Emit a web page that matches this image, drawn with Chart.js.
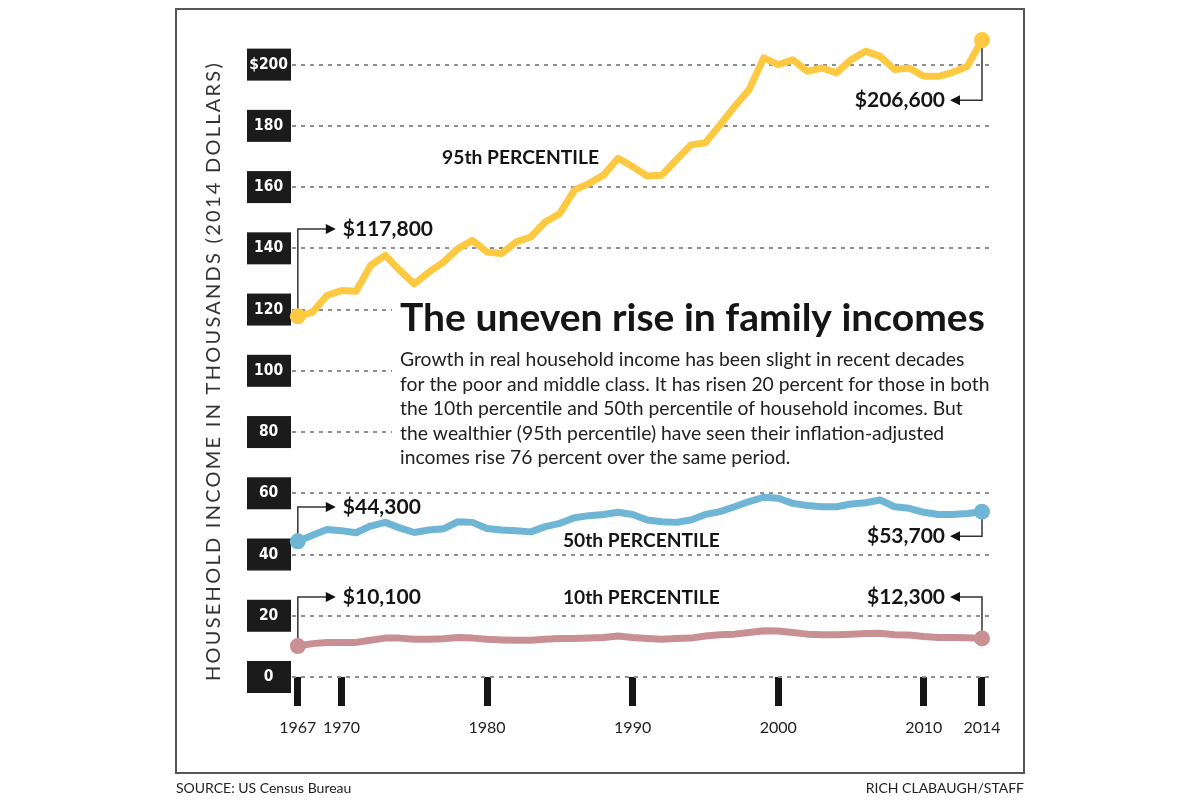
<!DOCTYPE html>
<html>
<head>
<meta charset="utf-8">
<script src="https://cdn.jsdelivr.net/npm/chart.js@4.4.0/dist/chart.umd.min.js"></script>
<style>html,body{margin:0;background:#fff}</style>
</head>
<body>
<canvas id="c" width="1200" height="800"></canvas>
<script>
const years=[1967,1968,1969,1970,1971,1972,1973,1974,1975,1976,1977,1978,1979,1980,1981,1982,
  1983,1984,1985,1986,1987,1988,1989,1990,1991,1992,1993,1994,1995,1996,1997,1998,1999,2000,
  2001,2002,2003,2004,2005,2006,2007,2008,2009,2010,2011,2012,2013,2014];
const p95=[117.8,119.1,124.6,126.2,126.0,134.4,137.7,132.8,128.4,132.2,135.5,139.9,142.6,138.8,138.3,142.1,
  143.7,148.6,151.4,159.0,161.2,163.9,169.4,166.7,163.6,163.9,168.9,173.8,174.5,180.3,186.3,191.8,202.2,200.0,
  201.6,197.8,198.9,197.3,201.6,204.4,202.7,198.4,198.9,196.2,196.2,197.5,199.5,208.0];
const p50=[44.3,46.3,48.2,47.8,47.1,49.3,50.5,48.7,47.2,48.0,48.4,50.7,50.5,48.5,48.0,47.8,
  47.4,49.1,50.2,52.0,52.7,53.1,53.8,53.1,51.3,50.7,50.5,51.3,53.1,54.0,55.6,57.3,58.7,58.4,
  56.7,56.0,55.6,55.6,56.5,56.9,57.8,55.6,55.1,53.8,53.1,53.1,53.4,54.0];
const p10=[10.1,10.9,11.3,11.3,11.3,12.0,12.7,12.7,12.3,12.3,12.5,12.9,12.7,12.3,12.1,12.0,
  12.0,12.3,12.6,12.6,12.7,12.9,13.4,12.9,12.6,12.3,12.6,12.7,13.4,13.8,14.0,14.5,15.1,15.0,
  14.5,14.0,13.8,13.8,14.0,14.2,14.3,13.8,13.7,13.2,12.9,12.9,12.8,12.6];
const xTickYears=[1967,1970,1980,1990,2000,2010,2014];
const yTickValues=[0,20,40,60,80,100,120,140,160,180,200];
const yTickLabels=['0','20','40','60','80','100','120','140','160','180','$200'];
const seriesNames=['95th PERCENTILE','50th PERCENTILE','10th PERCENTILE'];
const startLabels=['$117,800','$44,300','$10,100'];
const endLabels=['$206,600','$53,700','$12,300'];
const colors=['#fcc940','#6fb5d5','#c99094'];

const title='The uneven rise in family incomes';
const blurb=['Growth in real household income has been slight in recent decades',
  'for the poor and middle class. It has risen 20 percent for those in both',
  'the 10th percentile and 50th percentile of household incomes. But',
  'the wealthier (95th percentile) have seen their inflation-adjusted',
  'incomes rise 76 percent over the same period.'];
const yTitle='HOUSEHOLD INCOME IN THOUSANDS (2014 DOLLARS)';
const source='SOURCE: US Census Bureau';
const credit='RICH CLABAUGH/STAFF';

// label placement: y in data units, name label x in years
const nameAt=[[1982.3,169.5],[1990.6,44.4],[1990.6,25.8]];
const startLabelY=[146.3,55.5,26.1];
const endLabelY=[188.4,46.0,26.1];

function fitSize(ctx,text,weight,family,w){
  ctx.font=weight+' 40px '+family;
  return 40*w/ctx.measureText(text).width;
}

function arrowHead(ctx,x,y,dir){
  ctx.beginPath();
  ctx.moveTo(x,y); ctx.lineTo(x-dir*10,y-5); ctx.lineTo(x-dir*10,y+5); ctx.closePath(); ctx.fill();
}

const deco={
  id:'deco',
  beforeDraw(c){
    const ctx=c.ctx, y=c.scales.y;
    ctx.save();
    ctx.fillStyle='#fff'; ctx.fillRect(0,0,1200,800);
    ctx.strokeStyle='#555'; ctx.lineWidth=2;
    ctx.strokeRect(176,9,848,764);
    ctx.fillStyle='#1b1b1b';
    yTickValues.forEach(v=>{ const py=y.getPixelForValue(v); ctx.fillRect(247,py-16,44,32); });
    ctx.restore();
  },
  beforeDatasetsDraw(c){
    const ctx=c.ctx, x=c.scales.x, y=c.scales.y;
    ctx.save();
    ctx.fillStyle='#fff'; ctx.fillRect(392,288,610,184);
    ctx.strokeStyle='#333'; ctx.fillStyle='#111'; ctx.lineWidth=1.5;
    const sets=[p95,p50,p10], last=years.length-1;
    sets.forEach((s,i)=>{
      const x0=x.getPixelForValue(years[0]), y0=y.getPixelForValue(s[0]), ys=y.getPixelForValue(startLabelY[i]);
      ctx.beginPath(); ctx.moveTo(x0,y0); ctx.lineTo(x0,ys); ctx.lineTo(x0+30,ys); ctx.stroke();
      arrowHead(ctx,x0+38,ys,1);
      const x1=x.getPixelForValue(years[last]), y1=y.getPixelForValue(s[last]), ye=y.getPixelForValue(endLabelY[i]);
      ctx.beginPath(); ctx.moveTo(x1,y1); ctx.lineTo(x1,ye); ctx.lineTo(x1-24,ye); ctx.stroke();
      arrowHead(ctx,x1-32,ye,-1);
    });
    ctx.restore();
  },
  afterDraw(c){
    const ctx=c.ctx, x=c.scales.x, y=c.scales.y;
    ctx.save();
    ctx.fillStyle='#151515'; ctx.textBaseline='middle';
    // title and text block
    let s=fitSize(ctx,title,'700','Lato',585);
    ctx.font='700 '+s+'px Lato'; ctx.textAlign='left';
    ctx.fillText(title,400,318);
    s=fitSize(ctx,blurb[1],'400','Lato',590);
    ctx.font='400 '+s+'px Lato'; ctx.fillStyle='#222';
    blurb.forEach((l,i)=>ctx.fillText(l,400,360+i*24.5));
    // series names
    ctx.fillStyle='#151515';
    s=fitSize(ctx,seriesNames[0],'700','Lato',157);
    ctx.font='700 '+s+'px Lato'; ctx.textAlign='center';
    nameAt.forEach((p,i)=>ctx.fillText(seriesNames[i],x.getPixelForValue(p[0]),y.getPixelForValue(p[1])));
    // start/end values
    ctx.font='700 21px Lato';
    const x0=x.getPixelForValue(years[0]), x1=x.getPixelForValue(years[years.length-1]);
    startLabels.forEach((t,i)=>{ ctx.textAlign='left'; ctx.fillText(t,x0+45,y.getPixelForValue(startLabelY[i])); });
    endLabels.forEach((t,i)=>{ ctx.textAlign='right'; ctx.fillText(t,x1-37,y.getPixelForValue(endLabelY[i])); });
    // y title, tracked out
    ctx.font='400 20px Lato'; ctx.fillStyle='#333';
    const w0=ctx.measureText(yTitle).width;
    ctx.letterSpacing=((618-w0)/(yTitle.length-1)).toFixed(2)+'px';
    ctx.translate(214,371); ctx.rotate(-Math.PI/2); ctx.textAlign='center';
    ctx.fillText(yTitle,0,0);
    ctx.setTransform(1,0,0,1,0,0); ctx.letterSpacing='0px';
    // footer
    ctx.fillStyle='#222'; ctx.font='400 14px Lato';
    ctx.textAlign='left'; ctx.fillText(source,176,788);
    ctx.textAlign='right'; ctx.fillText(credit,1024,788);
    ctx.restore();
  }
};

function mk(data,i){
  return {
    data:years.map((yr,k)=>({x:yr,y:data[k]})),
    borderColor:colors[i], backgroundColor:colors[i], borderWidth:7,
    borderJoinStyle:'round', borderCapStyle:'round', tension:0, clip:false,
    pointRadius:ctx=>(ctx.dataIndex===0||ctx.dataIndex===years.length-1)?8:0,
    pointBorderWidth:0, pointBackgroundColor:colors[i]
  };
}

function draw(){
  new Chart(document.getElementById('c'),{
    type:'line',
    data:{datasets:[mk(p95,0),mk(p50,1),mk(p10,2)]},
    options:{
      responsive:false, animation:false, devicePixelRatio:1,
      layout:{padding:{left:248,right:210,top:34,bottom:63}},
      plugins:{legend:{display:false},tooltip:{enabled:false}},
      scales:{
        x:{type:'linear',min:1966.6,max:2014.55,
          afterBuildTicks:s=>{s.ticks=xTickYears.map(v=>({value:v}));},
          afterFit:s=>{s.height=60;},
          border:{display:false},
          grid:{drawOnChartArea:false,drawTicks:true,tickLength:29,tickWidth:7,tickColor:'#151515'},
          ticks:{padding:12,color:'#222',font:{family:'Lato',size:16},callback:v=>String(v),maxRotation:0,autoSkip:false}},
        y:{min:0,max:210,
          afterBuildTicks:s=>{s.ticks=yTickValues.map(v=>({value:v}));},
          afterFit:s=>{s.width=44;},
          border:{display:false,dash:[4,5]},
          grid:{color:'#8f8f8f',lineWidth:2,drawTicks:false},
          ticks:{padding:4,crossAlign:'center',color:'#fff',
            font:{family:'"DejaVu Sans Condensed", Lato',size:15.5,weight:'bold'},
            callback:(v,i)=>yTickLabels[i]}}
      }
    },
    plugins:[deco]
  });
}

Promise.all(['400 16px Lato','700 16px Lato','bold 16px "DejaVu Sans Condensed"'].map(f=>document.fonts.load(f)))
  .then(draw,draw);
</script>
</body>
</html>
